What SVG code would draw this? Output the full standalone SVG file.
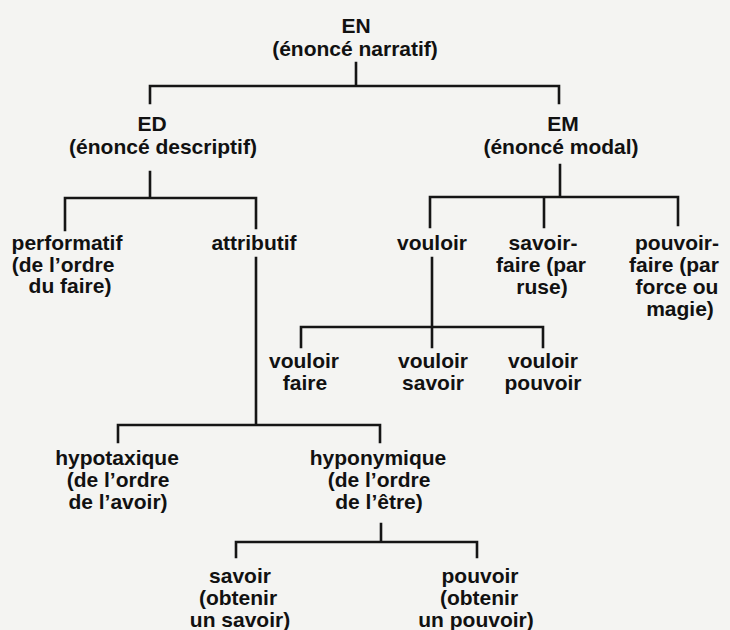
<svg xmlns="http://www.w3.org/2000/svg" width="730" height="630" viewBox="0 0 730 630">
<style>
text{font-family:"Liberation Sans",Arial,sans-serif;font-weight:bold;font-size:21px;fill:#111;text-anchor:middle}
.c path{fill:none;stroke:#151515;stroke-width:2.6;stroke-linecap:square}
</style>
<rect width="730" height="630" fill="#f4f4f2"/>
<g class="c" id="connectors">
<path d="M356,63 V86 M150,86 H559 M150,86 V103 M559,86 V103"/>
<path d="M150,172 V198 M65,198 H256 M65,198 V230 M256,198 V228"/>
<path d="M560,165 V197 M430,197 H678 M430,197 V227 M544,197 V227 M678,197 V225"/>
<path d="M256,258 V425 M118,425 H380 M118,425 V442 M380,425 V442"/>
<path d="M432,258 V327 M301,327 H543 M301,327 V347 M432,327 V347 M543,327 V347"/>
<path d="M381,524 V542 M236,542 H477 M236,542 V557 M477,542 V557"/>
</g>
<g id="EN"><text x="356" y="33">EN</text><text x="355" y="56">(énoncé narratif)</text></g>
<g id="ED"><text x="152" y="131">ED</text><text x="163" y="154">(énoncé descriptif)</text></g>
<g id="EM"><text x="563" y="131">EM</text><text x="561" y="154">(énoncé modal)</text></g>
<g id="performatif"><text x="67" y="250">performatif</text><text x="63" y="272">(de l’ordre</text><text x="70" y="293">du faire)</text></g>
<g id="attributif"><text x="254" y="250">attributif</text></g>
<g id="vouloir"><text x="432" y="250">vouloir</text></g>
<g id="savoir-faire"><text x="543" y="250">savoir-</text><text x="541" y="272">faire (par</text><text x="542" y="294">ruse)</text></g>
<g id="pouvoir-faire"><text x="677" y="250">pouvoir-</text><text x="674" y="272">faire (par</text><text x="677" y="294">force ou</text><text x="680" y="316">magie)</text></g>
<g id="vouloir-faire"><text x="304" y="368">vouloir</text><text x="305" y="390">faire</text></g>
<g id="vouloir-savoir"><text x="433" y="368">vouloir</text><text x="433" y="390">savoir</text></g>
<g id="vouloir-pouvoir"><text x="543" y="368">vouloir</text><text x="543" y="390">pouvoir</text></g>
<g id="hypotaxique"><text x="117" y="465">hypotaxique</text><text x="118" y="487">(de l’ordre</text><text x="118" y="509">de l’avoir)</text></g>
<g id="hyponymique"><text x="378" y="465">hyponymique</text><text x="379" y="487">(de l’ordre</text><text x="379" y="509">de l’être)</text></g>
<g id="savoir"><text x="240" y="583">savoir</text><text x="238" y="605">(obtenir</text><text x="240" y="627">un savoir)</text></g>
<g id="pouvoir"><text x="480" y="583">pouvoir</text><text x="479" y="605">(obtenir</text><text x="476" y="627">un pouvoir)</text></g>
</svg>
